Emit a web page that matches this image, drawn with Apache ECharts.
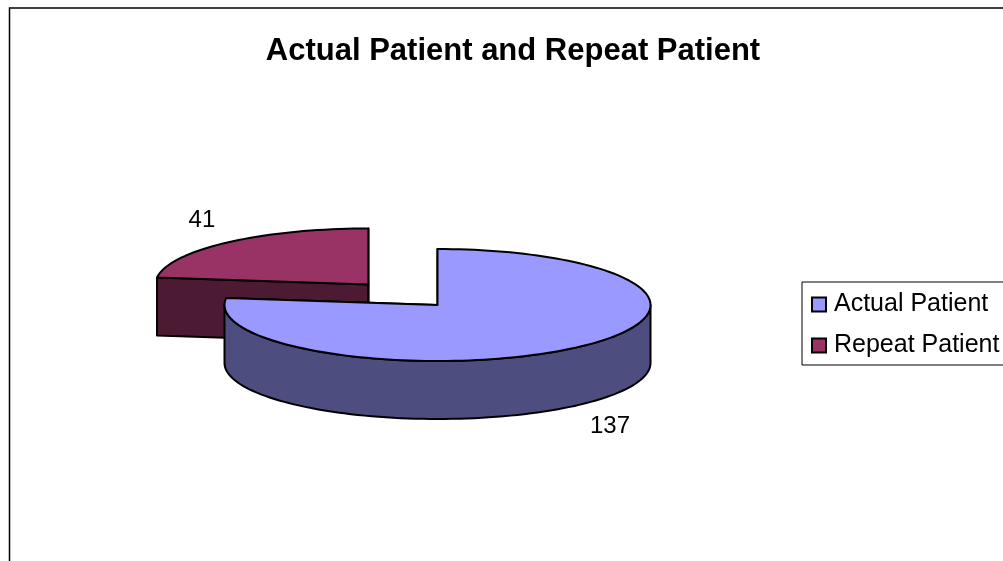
<!DOCTYPE html>
<html>
<head>
<meta charset="utf-8">
<style>html,body{margin:0;padding:0;background:#fff;overflow:hidden}#c{width:1003px;height:561px}</style>
<script src="https://cdn.jsdelivr.net/npm/echarts@6/dist/echarts.min.js"></script>
</head>
<body>
<div id="c"></div>
<script>
var titleText = 'Actual Patient and Repeat Patient';
var categories = ['Actual Patient', 'Repeat Patient'];
var values = [137, 41];
var explode = [0, 0.49];
var topColors = ['#9999FF', '#993366'];
var sideColors = ['#4D4D80', '#4D1A33'];

var FONT = '"Liberation Sans", Arial, sans-serif';
var CX = 437.5, CY = 305, RX = 213, RY = 56, DEPTH = 58;
var LABEL_DX = 3, LABEL_X = 43, LABEL_Y = 29;
var total = values.reduce(function (a, b) { return a + b; }, 0);

function pt(c, deg, dy) {
  var r = deg * Math.PI / 180;
  return [c[0] + RX * Math.sin(r), c[1] - RY * Math.cos(r) + (dy || 0)];
}
function arc(c, a, b, dy) {
  var n = Math.max(2, Math.ceil(Math.abs(b - a) / 2)), out = [];
  for (var i = 0; i <= n; i++) out.push(pt(c, a + (b - a) * i / n, dy));
  return out;
}
function face(points, fill) {
  return { type: 'polygon', shape: { points: points },
    style: { fill: fill, stroke: '#000', lineWidth: 2, lineJoin: 'round' } };
}
function renderer(index) {
  return function (params, api) {
    var value = api.value(0), before = 0;
    for (var i = 0; i < index; i++) before += values[i];
    var a0 = before / total * 360, a1 = a0 + value / total * 360, mid = (a0 + a1) / 2;
    var m = mid * Math.PI / 180;
    var c = [CX + explode[index] * RX * Math.sin(m), CY - explode[index] * RY * Math.cos(m)];
    var low = [c[0], c[1] + DEPTH];
    var kids = [];
    [a0, a1].forEach(function (a) {
      kids.push(face([c, pt(c, a), pt(c, a, DEPTH), low], sideColors[index]));
    });
    var w0 = Math.max(a0, 90), w1 = Math.min(a1, 270);
    if (w1 > w0) {
      kids.push(face(arc(c, w0, w1, 0).concat(arc(c, w1, w0, DEPTH)), sideColors[index]));
    }
    kids.push(face([c].concat(arc(c, a0, a1, 0)), topColors[index]));
    var anchor = pt(c, mid, Math.cos(m) < 0 ? DEPTH : 0);
    kids.push({ type: 'text', style: {
      text: String(value), x: anchor[0] + LABEL_DX + LABEL_X * Math.sin(m), y: anchor[1] - LABEL_Y * Math.cos(m),
      fill: '#000', font: '24px ' + FONT, align: 'center', verticalAlign: 'middle' } });
    return { type: 'group', children: kids };
  };
}

var chart = echarts.init(document.getElementById('c'), null, { renderer: 'canvas' });
chart.setOption({
  animation: false,
  backgroundColor: '#fff',
  title: { text: titleText, left: 513, top: 36, textAlign: 'center', padding: 0,
    textStyle: { fontFamily: FONT, fontWeight: 'bold', fontSize: 31, color: '#000' } },
  legend: {
    data: categories, orient: 'vertical', left: 802, top: 282, icon: 'rect',
    itemWidth: 14, itemHeight: 14, itemGap: 16, padding: [10, 30, 7, 9],
    borderColor: '#000', borderWidth: 1,
    itemStyle: { borderColor: '#000', borderWidth: 2 },
    textStyle: { fontFamily: FONT, fontSize: 25, color: '#000', padding: [0, 0, 0, 3] }
  },
  graphic: [{ type: 'rect', z: -1, silent: true,
    shape: { x: 9.5, y: 8, width: 1100, height: 700 },
    style: { fill: 'none', stroke: '#000', lineWidth: 1.5 } }],
  series: categories.map(function (name, i) {
    return { type: 'custom', name: name, coordinateSystem: 'none',
      z: 2 + (categories.length - i), itemStyle: { color: topColors[i] },
      renderItem: renderer(i), data: [[values[i]]] };
  })
});
</script>
</body>
</html>
